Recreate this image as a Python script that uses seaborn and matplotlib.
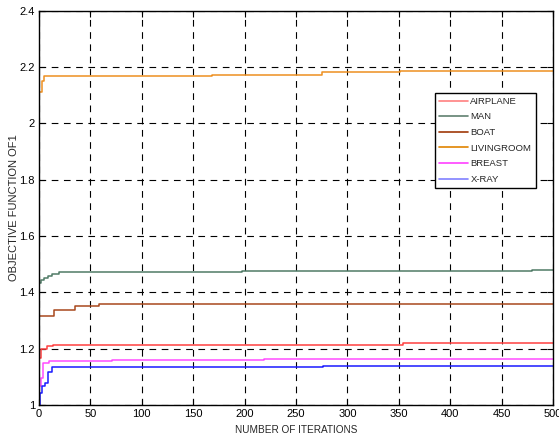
import matplotlib
matplotlib.use("Agg")
import matplotlib.pyplot as plt
import seaborn as sns
import pandas as pd
import numpy as np
from matplotlib.lines import Line2D

# Step-change points (iteration, objective value)
airplane_it = [0, 2, 8, 14, 354, 500]
airplane_val = [1.166, 1.200, 1.209, 1.214, 1.220, 1.220]

man_it = [0, 2, 5, 9, 13, 19, 197, 480, 500]
man_val = [1.432, 1.444, 1.450, 1.457, 1.464, 1.471, 1.474, 1.478, 1.478]

boat_it = [0, 15, 35, 58, 500]
boat_val = [1.317, 1.337, 1.351, 1.357, 1.357]

living_it = [0, 3, 5, 168, 275, 351, 500]
living_val = [2.110, 2.150, 2.167, 2.172, 2.181, 2.186, 2.186]

breast_it = [0, 2, 4, 10, 71, 219, 500]
breast_val = [1.066, 1.095, 1.148, 1.156, 1.160, 1.165, 1.165]

xray_it = [0, 1, 3, 6, 9, 13, 276, 500]
xray_val = [1.000, 1.042, 1.068, 1.077, 1.118, 1.134, 1.138, 1.138]

series_names = ["AIRPLANE", "MAN", "BOAT", "LIVINGROOM", "BREAST", "X-RAY"]
line_colors = ["#ff4040", "#4f7a66", "#a8481c", "#ee9020", "#ff4cff", "#1a1aff"]
legend_colors = ["#ff8080", "#608070", "#a03808", "#e08400", "#ff40ff", "#8080ff"]

xticks = list(range(0, 501, 50))
yticks = [1.0, 1.2, 1.4, 1.6, 1.8, 2.0, 2.2, 2.4]
ytick_labels = ["1", "1.2", "1.4", "1.6", "1.8", "2", "2.2", "2.4"]

data = [(airplane_it, airplane_val), (man_it, man_val), (boat_it, boat_val),
        (living_it, living_val), (breast_it, breast_val), (xray_it, xray_val)]

frames = []
for name, (its, vals) in zip(series_names, data):
    frames.append(pd.DataFrame({"iter": its, "value": vals, "image": name}))
df = pd.concat(frames, ignore_index=True)

sns.set_theme(style="white")
plt.rcParams["font.family"] = ["Liberation Sans", "DejaVu Sans"]

fig = plt.figure(figsize=(5.59, 4.40), dpi=100)
ax = fig.add_axes([0.0698, 0.0795, 0.9195, 0.8965])

for name, c in zip(series_names, line_colors):
    sns.lineplot(data=df[df["image"] == name], x="iter", y="value", ax=ax,
                 color=c, linewidth=1.1, drawstyle="steps-post",
                 estimator=None, sort=False, label=name, legend=False)

ax.set_xlim(0, 500)
ax.set_ylim(1.0, 2.4)
ax.set_xticks(xticks)
ax.set_xticklabels([str(t) for t in xticks])
ax.set_yticks(yticks)
ax.set_yticklabels(ytick_labels)
ax.tick_params(direction="in", length=4, width=0.8, labelsize=8, colors="black",
               top=True, right=True, bottom=True, left=True, pad=3)
ax.grid(True, color="black", linestyle=(0, (6, 5)), linewidth=0.8)
for s in ax.spines.values():
    s.set_color("black")
    s.set_linewidth(1.0)

ax.set_xlabel("NUMBER OF ITERATIONS", fontsize=7.2, labelpad=4)
ax.set_ylabel("OBJECTIVE FUNCTION OF1", fontsize=8, labelpad=0)

handles = [Line2D([0], [0], color=c, linewidth=1.2) for c in legend_colors]
leg = ax.legend(handles, series_names, loc="upper right",
                bbox_to_anchor=(0.966, 0.792), fontsize=6.8, frameon=True,
                fancybox=False, edgecolor="black", framealpha=1,
                handlelength=3.0, handletextpad=0.3, labelspacing=0.7,
                borderpad=0.45, borderaxespad=0)
leg.get_frame().set_linewidth(1.0)

fig.savefig("out.png", dpi=100)
